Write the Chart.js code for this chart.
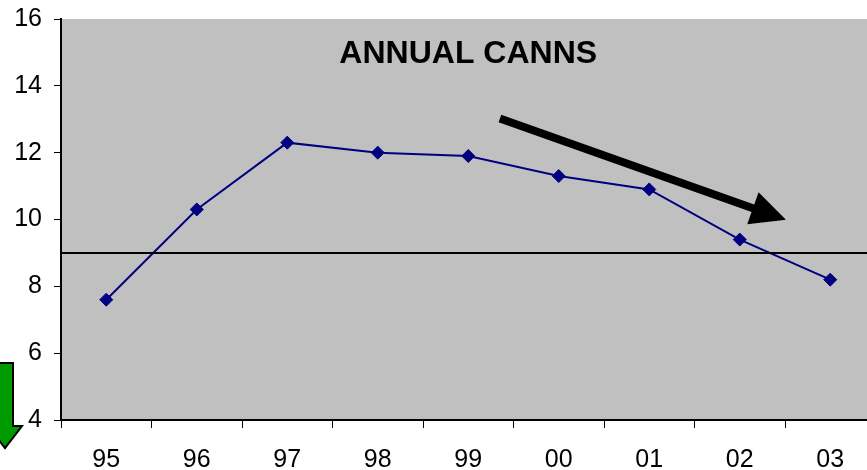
<!DOCTYPE html>
<html>
<head>
<meta charset="utf-8">
<script src="https://cdn.jsdelivr.net/npm/chart.js@4/dist/chart.umd.min.js"></script>
<style>
  html, body { margin: 0; padding: 0; background: #ffffff; overflow: hidden; }
  canvas { display: block; }
</style>
</head>
<body>
<canvas id="chart" width="883" height="470"></canvas>
<script>
// Annual canns, by year
const years = ['95', '96', '97', '98', '99', '00', '01', '02', '03'];
const canns = [7.6, 10.3, 12.3, 12.0, 11.9, 11.3, 10.9, 9.4, 8.2];
const yTicks = [4, 6, 8, 10, 12, 14, 16];
const referenceLevel = 9;
const chartTitle = 'ANNUAL CANNS';
// trend arrow, in (category index, value) terms
const trendFrom = [4.35, 13.02];
const trendTo = [7.51, 9.99];

const FONT = '"Liberation Sans", Arial, Helvetica, sans-serif';

const decorations = {
  id: 'decorations',
  beforeDraw(chart) {
    const { ctx, chartArea: a } = chart;
    ctx.save();
    ctx.fillStyle = '#c0c0c0';
    ctx.fillRect(a.left, a.top, a.right - a.left, a.bottom - a.top);
    ctx.restore();
  },
  afterDatasetsDraw(chart) {
    const { ctx, chartArea: a, scales: { x, y } } = chart;
    ctx.save();

    // reference level
    const yr = y.getPixelForValue(referenceLevel);
    ctx.strokeStyle = '#000000';
    ctx.lineWidth = 2;
    ctx.beginPath();
    ctx.moveTo(a.left, yr);
    ctx.lineTo(a.right, yr);
    ctx.stroke();

    // title inside the plot, centred over the middle year
    ctx.fillStyle = '#000000';
    ctx.font = 'bold 32px ' + FONT;
    ctx.textAlign = 'center';
    ctx.textBaseline = 'alphabetic';
    ctx.fillText(chartTitle, x.getPixelForValue(4), 63);

    // black trend arrow
    const x0 = x.getPixelForValue(trendFrom[0]), y0 = y.getPixelForValue(trendFrom[1]);
    const x1 = x.getPixelForValue(trendTo[0]), y1 = y.getPixelForValue(trendTo[1]);
    const ang = Math.atan2(y1 - y0, x1 - x0);
    const headLen = 35, headHalf = 17, shaftHalf = 4;
    const ux = Math.cos(ang), uy = Math.sin(ang);
    const px = -uy, py = ux;
    const bx = x1 - ux * headLen, by = y1 - uy * headLen;
    ctx.fillStyle = '#000000';
    ctx.beginPath();
    ctx.moveTo(x0 + px * shaftHalf, y0 + py * shaftHalf);
    ctx.lineTo(bx + px * shaftHalf, by + py * shaftHalf);
    ctx.lineTo(bx + px * headHalf, by + py * headHalf);
    ctx.lineTo(x1, y1);
    ctx.lineTo(bx - px * headHalf, by - py * headHalf);
    ctx.lineTo(bx - px * shaftHalf, by - py * shaftHalf);
    ctx.lineTo(x0 - px * shaftHalf, y0 - py * shaftHalf);
    ctx.closePath();
    ctx.fill();

    // green downward arrow at the lower left
    const cx = a.left - 56;
    const top = 363, neck = 426, tip = 448;
    ctx.fillStyle = '#009900';
    ctx.strokeStyle = '#000000';
    ctx.lineWidth = 2;
    ctx.lineJoin = 'miter';
    ctx.beginPath();
    ctx.moveTo(cx - 8, top);
    ctx.lineTo(cx + 8, top);
    ctx.lineTo(cx + 8, neck);
    ctx.lineTo(cx + 17, neck);
    ctx.lineTo(cx, tip);
    ctx.lineTo(cx - 17, neck);
    ctx.lineTo(cx - 8, neck);
    ctx.closePath();
    ctx.fill();
    ctx.stroke();

    ctx.restore();
  }
};

new Chart(document.getElementById('chart'), {
  type: 'line',
  data: {
    labels: years,
    datasets: [{
      data: canns,
      borderColor: '#000080',
      backgroundColor: '#000080',
      borderWidth: 2,
      pointStyle: 'rectRot',
      pointRadius: 6.5,
      pointHoverRadius: 6.5,
      pointBorderWidth: 1,
      tension: 0,
      fill: false
    }]
  },
  options: {
    responsive: false,
    animation: false,
    events: [],
    layout: { padding: { top: 19, right: 0, left: 0, bottom: 0 } },
    plugins: {
      legend: { display: false },
      title: { display: false },
      tooltip: { enabled: false }
    },
    scales: {
      x: {
        type: 'category',
        offset: true,
        afterFit(scale) {
          scale.height = 50;
          scale.paddingLeft = 0;
          scale.paddingRight = 0;
        },
        grid: {
          offset: true,
          drawOnChartArea: false,
          drawTicks: true,
          tickLength: 8,
          color: '#000000',
          lineWidth: 1
        },
        border: { display: true, color: '#000000', width: 2 },
        ticks: {
          color: '#000000',
          padding: 17,
          maxRotation: 0,
          autoSkip: false,
          font: { family: FONT, size: 25 }
        }
      },
      y: {
        min: yTicks[0],
        max: yTicks[yTicks.length - 1],
        afterFit(scale) {
          scale.width = 61;
          scale.paddingTop = 0;
          scale.paddingBottom = 0;
        },
        afterBuildTicks(scale) { scale.ticks = yTicks.map(v => ({ value: v })); },
        grid: {
          drawOnChartArea: false,
          drawTicks: true,
          tickLength: 7,
          color: '#000000',
          lineWidth: 1
        },
        border: { display: true, color: '#000000', width: 2 },
        ticks: {
          color: '#000000',
          padding: 12,
          font: { family: FONT, size: 25 }
        }
      }
    }
  },
  plugins: [decorations]
});
</script>
</body>
</html>
